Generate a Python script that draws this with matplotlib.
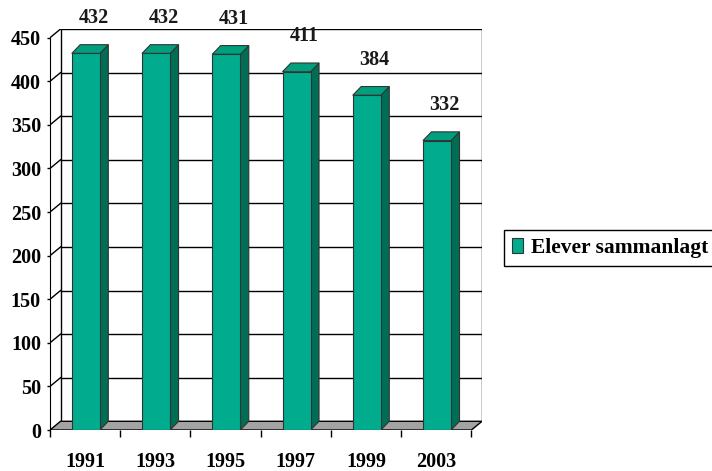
"""
Elever sammanlagt 1991-2003
Excel style 3D column chart, redrawn with matplotlib
"""

import matplotlib
matplotlib.use("Agg")

import matplotlib.pyplot as plt
from matplotlib.patches import Polygon, Patch


# ==========================================================
# DATA
# ==========================================================

years = ["1991", "1993", "1995", "1997", "1999", "2003"]
elever = [432, 432, 431, 411, 384, 332]
y_ticks = [0, 50, 100, 150, 200, 250, 300, 350, 400, 450]
series_name = "Elever sammanlagt"


# ==========================================================
# STYLE
# ==========================================================

FRONT = "#00AB8E"
TOP = "#00A07F"
SIDE = "#006E54"
FLOOR = "#A3A3A3"
EDGE = "#333333"

# depth of the walls / bars, in data units (x: categories, y: values)
WALL_DX = 0.15
WALL_DY = 10.0
BAR_DX = 0.12
BAR_DY = 10.0

BAR_START = 0.31
BAR_WIDTH = 0.40

plt.rcParams["font.family"] = ["Liberation Serif", "DejaVu Serif"]
plt.rcParams["font.weight"] = "bold"


# ==========================================================
# WALLS AND FLOOR
# ==========================================================

def draw_walls(ax, n):

    y_max = y_ticks[-1]

    # floor
    ax.add_patch(Polygon(
        [(0, 0), (n, 0), (n + WALL_DX, WALL_DY), (WALL_DX, WALL_DY)],
        closed=True, facecolor=FLOOR, edgecolor="black",
        linewidth=1.0, zorder=1
    ))

    # back wall grid lines + left wall diagonals
    for v in y_ticks[1:]:
        ax.plot([WALL_DX, n + WALL_DX], [v + WALL_DY, v + WALL_DY],
                color="black", linewidth=1.0, zorder=0.5)
        ax.plot([0, WALL_DX], [v, v + WALL_DY],
                color="black", linewidth=1.0, zorder=0.5)

    # wall edges
    ax.plot([WALL_DX, WALL_DX], [WALL_DY, y_max + WALL_DY],
            color="black", linewidth=1.0, zorder=0.5)
    ax.plot([n + WALL_DX, n + WALL_DX], [WALL_DY, y_max + WALL_DY],
            color="black", linewidth=1.0, zorder=0.5)


# ==========================================================
# BARS
# ==========================================================

def draw_bars(ax):

    for i, v in enumerate(elever):

        x0 = i + BAR_START
        x1 = x0 + BAR_WIDTH

        front = [(x0, 0), (x1, 0), (x1, v), (x0, v)]
        side = [(x1, 0), (x1 + BAR_DX, BAR_DY),
                (x1 + BAR_DX, v + BAR_DY), (x1, v)]
        top = [(x0, v), (x1, v), (x1 + BAR_DX, v + BAR_DY),
               (x0 + BAR_DX, v + BAR_DY)]

        for pts, col in [(side, SIDE), (top, TOP), (front, FRONT)]:
            ax.add_patch(Polygon(
                pts, closed=True, facecolor=col,
                edgecolor=EDGE, linewidth=0.8, zorder=3
            ))

        ax.annotate(
            str(v),
            xy=(x0 + BAR_WIDTH / 2 + BAR_DX / 2 + 0.05, v),
            xytext=(0, 22),
            textcoords="offset points",
            ha="center", va="baseline",
            fontsize=14.5, fontweight="bold", color="#1a1a1a"
        )


# ==========================================================
# MAIN
# ==========================================================

def main():

    n = len(years)

    fig = plt.figure(figsize=(7.12, 4.71), dpi=100)
    ax = fig.add_axes([50 / 712, 41 / 471, 432 / 712, 401 / 471])

    ax.set_xlim(0, n + WALL_DX)
    ax.set_ylim(0, y_ticks[-1] + WALL_DY)

    draw_walls(ax, n)
    draw_bars(ax)

    for s in ["top", "right"]:
        ax.spines[s].set_visible(False)
    ax.spines["left"].set_bounds(0, y_ticks[-1])
    ax.spines["bottom"].set_bounds(0, n)
    ax.spines["left"].set_zorder(4)
    ax.spines["bottom"].set_visible(False)

    ax.set_yticks(y_ticks)
    ax.set_yticklabels([str(t) for t in y_ticks])
    ax.tick_params(axis="y", length=2.5, width=1.0, pad=4,
                   labelsize=14.5, colors="black")

    # category boundaries as ticks, year labels centered between
    ax.set_xticks(range(n + 1))
    ax.set_xticklabels([])
    ax.set_xticks([i + 0.5 for i in range(n)], minor=True)
    ax.set_xticklabels(years, minor=True)
    ax.tick_params(axis="x", which="major", length=5, width=1.0)
    ax.tick_params(axis="x", which="minor", length=0, pad=16,
                   labelsize=14.5)

    handle = Patch(facecolor=FRONT, edgecolor=EDGE, linewidth=0.8)
    leg = fig.legend(
        [handle], [series_name],
        loc="center left",
        bbox_to_anchor=(504 / 712, 1 - 248 / 471),
        prop={"family": "Liberation Serif", "weight": "bold", "size": 15.5},
        frameon=True, fancybox=False, framealpha=1,
        borderpad=0.35, handlelength=0.55, handleheight=0.7,
        handletextpad=0.35, borderaxespad=0
    )
    leg.get_frame().set_edgecolor("black")
    leg.get_frame().set_linewidth(1.0)

    fig.savefig("out.png", dpi=100)


if __name__ == "__main__":
    main()
